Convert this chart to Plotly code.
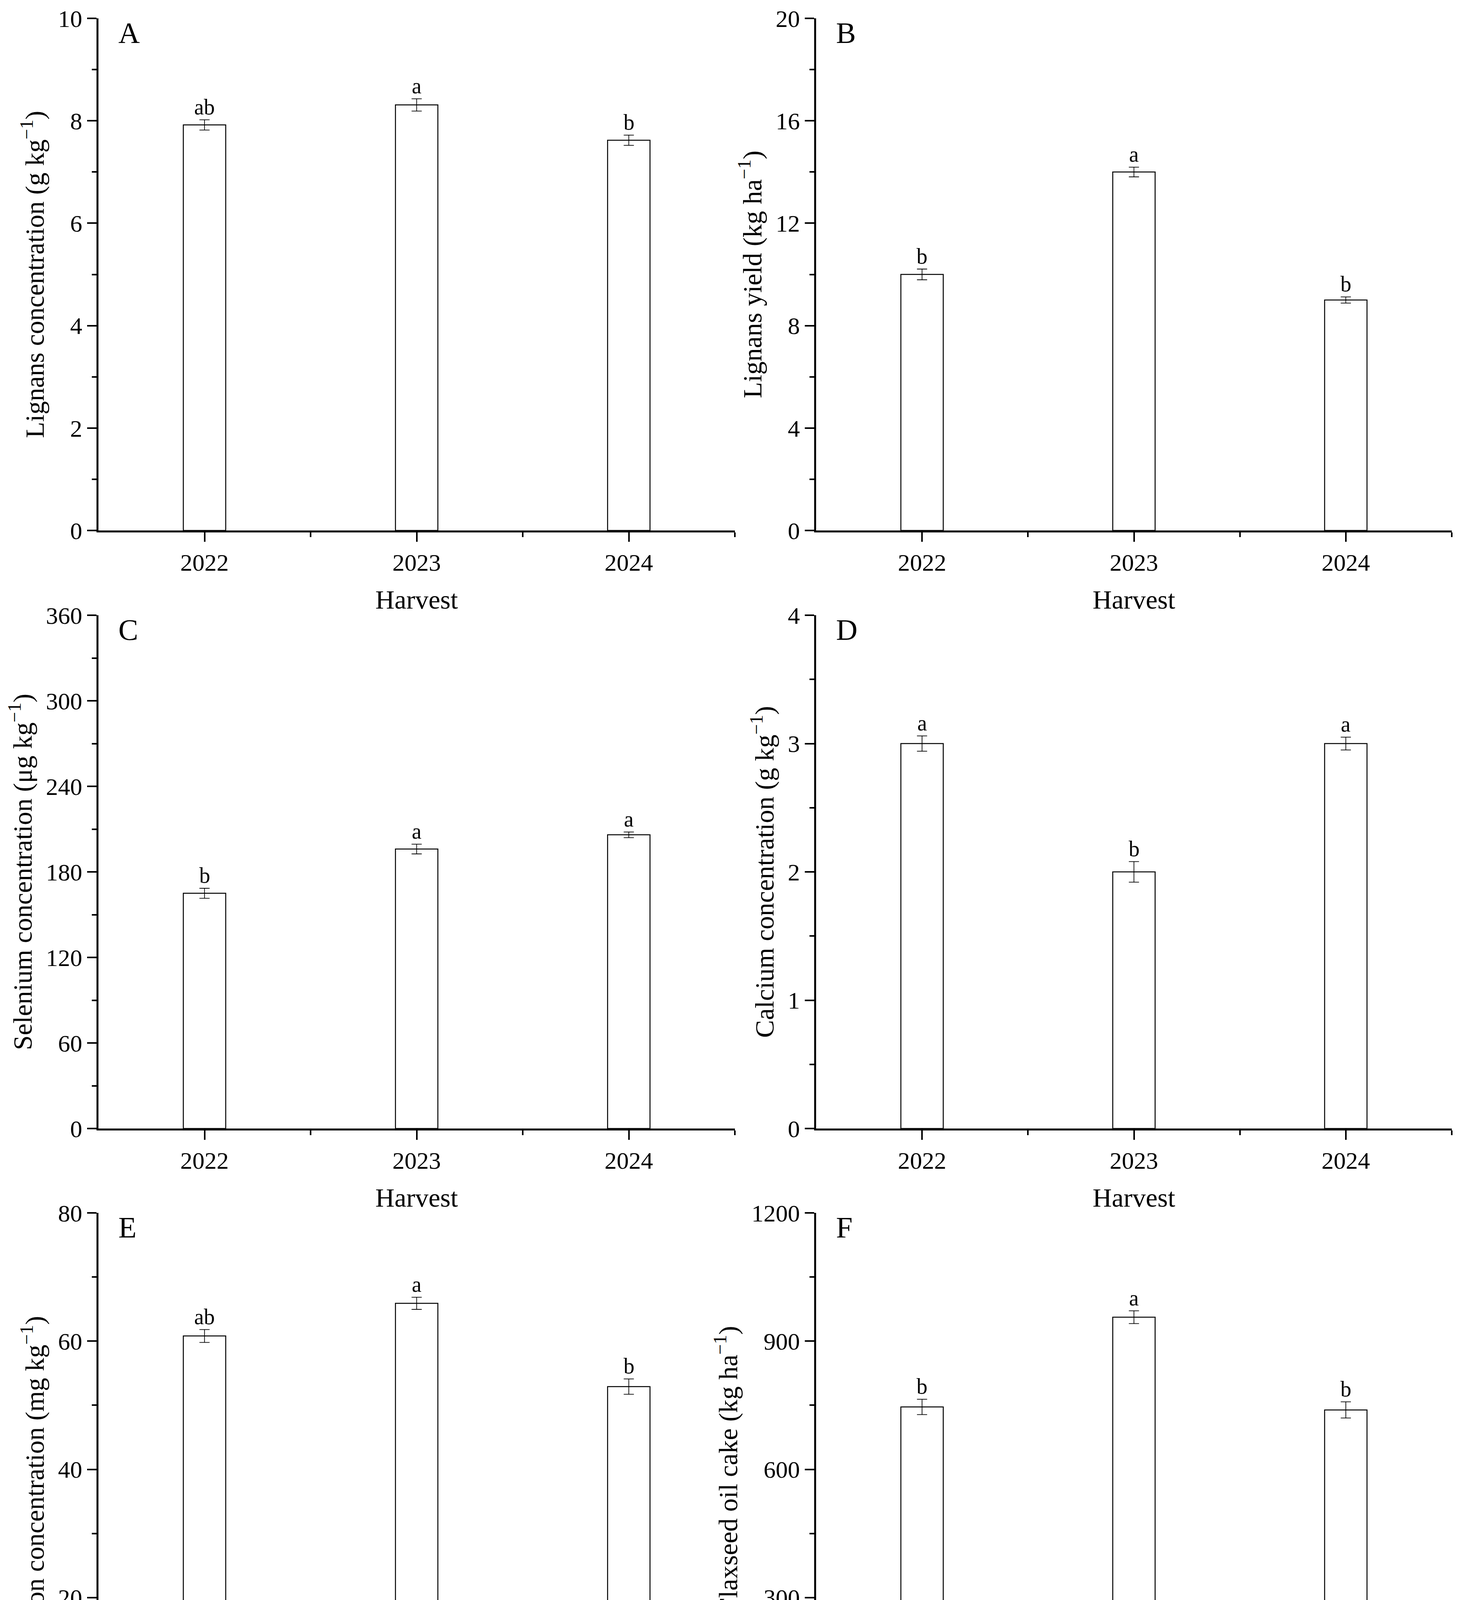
import plotly.graph_objects as go

# harvest years on the x axis
years = ["2022", "2023", "2024"]

# A - lignans concentration (g/kg)
lignans_conc = [7.92, 8.31, 7.62]
lignans_conc_err = [0.10, 0.12, 0.10]
lignans_conc_sig = ["ab", "a", "b"]

# B - lignans yield (kg/ha)
lignans_yield = [10.0, 14.0, 9.0]
lignans_yield_err = [0.21, 0.19, 0.12]
lignans_yield_sig = ["b", "a", "b"]

# C - selenium concentration (ug/kg)
selenium = [165, 196, 206]
selenium_err = [3.5, 3.4, 2.0]
selenium_sig = ["b", "a", "a"]

# D - calcium concentration (g/kg)
calcium = [3.0, 2.0, 3.0]
calcium_err = [0.06, 0.08, 0.05]
calcium_sig = ["a", "b", "a"]

# E - iron concentration (mg/kg)
iron = [60.8, 65.9, 52.9]
iron_err = [1.0, 0.95, 1.2]
iron_sig = ["ab", "a", "b"]

# F - flaxseed oil cake (kg/ha)
oil_cake = [746, 956, 739]
oil_cake_err = [18, 15, 19]
oil_cake_sig = ["b", "a", "b"]

panels = [
    ("A", "Lignans concentration (g kg<sup>−1</sup>)", lignans_conc, lignans_conc_err, lignans_conc_sig, 10, 2),
    ("B", "Lignans yield (kg ha<sup>−1</sup>)", lignans_yield, lignans_yield_err, lignans_yield_sig, 20, 4),
    ("C", "Selenium concentration (μg kg<sup>−1</sup>)", selenium, selenium_err, selenium_sig, 360, 60),
    ("D", "Calcium concentration (g kg<sup>−1</sup>)", calcium, calcium_err, calcium_sig, 4, 1),
    ("E", "Iron concentration (mg kg<sup>−1</sup>)", iron, iron_err, iron_sig, 80, 20),
    ("F", "Flaxseed oil cake (kg ha<sup>−1</sup>)", oil_cake, oil_cake_err, oil_cake_sig, 1200, 300),
]

W, H = 3732, 4628
FONT = "Liberation Serif"

# plot areas in pixels (left, right) and (top, bottom)
cols = [(244, 1873), (2081, 3708)]
rows = [(39, 1350), (1567, 2881), (3097, 4410)]

xpos = list(range(len(years)))

fig = go.Figure()
layout = dict(
    template="none",
    width=W, height=H, autosize=False,
    margin=dict(l=0, r=0, t=0, b=0, pad=0),
    paper_bgcolor="white", plot_bgcolor="white",
    font=dict(family=FONT, color="black"),
    showlegend=False,
)
annotations = []

for i, (letter, ytitle, vals, errs, sig, ymax, dtick) in enumerate(panels):
    n = i + 1
    r, c = divmod(i, 2)
    xl, xr = cols[c]
    yt, yb = rows[r]
    xa = "x" if n == 1 else f"x{n}"
    ya = "y" if n == 1 else f"y{n}"

    fig.add_trace(go.Bar(
        x=xpos, y=vals, width=0.2,
        marker=dict(color="white", line=dict(color="black", width=2.5)),
        error_y=dict(type="data", array=errs, visible=True, color="black", thickness=1.8, width=13),
        xaxis=xa, yaxis=ya,
    ))

    layout["xaxis" if n == 1 else f"xaxis{n}"] = dict(
        domain=[xl / W, xr / W], anchor=ya, automargin=False,
        range=[-0.5, len(years) - 0.5],
        tickvals=xpos, ticktext=years,
        ticks="outside", ticklen=24, tickwidth=4, tickcolor="black",
        showline=True, linewidth=5, linecolor="black",
        showgrid=False, zeroline=False,
        tickfont=dict(size=62, family=FONT),
        minor=dict(tickvals=[p + 0.5 for p in xpos], ticks="outside", ticklen=12, tickwidth=4, tickcolor="black"),
        title=dict(text="Harvest", font=dict(size=68, family=FONT), standoff=38),
    )
    layout["yaxis" if n == 1 else f"yaxis{n}"] = dict(
        domain=[1 - yb / H, 1 - yt / H], anchor=xa, automargin=False,
        range=[0, ymax], dtick=dtick, tick0=0,
        ticks="outside", ticklen=24, tickwidth=4, tickcolor="black",
        showline=True, linewidth=5, linecolor="black",
        showgrid=False, zeroline=False,
        tickfont=dict(size=62, family=FONT),
        minor=dict(dtick=dtick / 2, ticks="outside", ticklen=12, tickwidth=4, tickcolor="black"),
        title=dict(text=ytitle, font=dict(size=68, family=FONT), standoff=15),
    )

    # panel letter
    annotations.append(dict(
        text=letter, xref=f"{xa} domain", yref=f"{ya} domain",
        x=0.03, y=1.005, xanchor="left", yanchor="top", showarrow=False,
        font=dict(size=76, family=FONT),
    ))
    # significance letters above error bars
    for p, v, e, s in zip(xpos, vals, errs, sig):
        annotations.append(dict(
            text=s, xref=xa, yref=ya, x=p, y=v + e,
            xanchor="center", yanchor="bottom", showarrow=False,
            font=dict(size=56, family=FONT),
        ))

layout["annotations"] = annotations
fig.update_layout(**layout)
fig.write_html("out.html")
